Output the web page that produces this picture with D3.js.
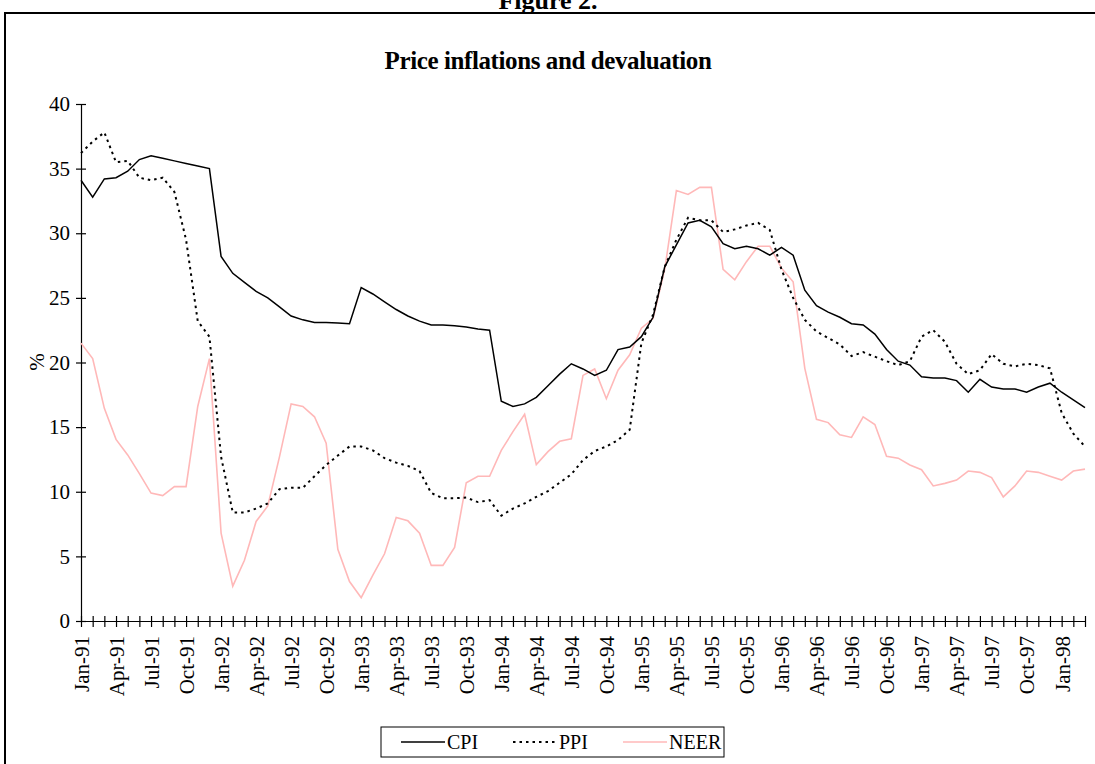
<!DOCTYPE html>
<html>
<head>
<meta charset="utf-8">
<script src="https://cdn.jsdelivr.net/npm/d3@7"></script>
<style>
  html, body { margin: 0; padding: 0; background: #fff; }
  svg { display: block; }
  text { font-family: "Liberation Serif", "Times New Roman", serif; fill: #000; }
</style>
</head>
<body>
<svg id="chart" width="1095" height="764"></svg>
<script>
// ---- data ----
const months = ["Jan","Feb","Mar","Apr","May","Jun","Jul","Aug","Sep","Oct","Nov","Dec"];
const categories = [];
for (let yr = 91; yr <= 98; yr++) {
  for (let m = 0; m < 12; m++) {
    if (yr === 98 && m > 2) break;
    categories.push(months[m] + "-" + yr);
  }
}
const cpi = [
  34.1, 32.8, 34.2, 34.3, 34.8, 35.7, 36.0, 35.8, 35.6, 35.4, 35.2, 35.0,
  28.2, 26.9, 26.2, 25.5, 25.0, 24.3, 23.6, 23.3, 23.1, 23.1, 23.05, 23.0,
  25.8, 25.3, 24.7, 24.1, 23.6, 23.2, 22.9, 22.9, 22.85, 22.75, 22.6, 22.5,
  17.0, 16.6, 16.8, 17.3, 18.2, 19.1, 19.9, 19.5, 19.0, 19.4, 21.0, 21.2,
  22.0, 23.5, 27.4, 29.1, 30.8, 31.0, 30.5, 29.2, 28.8, 29.0, 28.8, 28.3,
  28.9, 28.3, 25.6, 24.4, 23.9, 23.5, 23.0, 22.9, 22.2, 21.0, 20.1, 19.8,
  18.9, 18.8, 18.8, 18.6, 17.7, 18.7, 18.1, 17.95, 17.95, 17.7, 18.1, 18.4,
  17.7, 17.1, 16.5
];
const ppi = [
  36.2, 37.1, 37.8, 35.5, 35.6, 34.3, 34.1, 34.3, 33.2, 29.5, 23.2, 22.0,
  12.7, 8.4, 8.4, 8.7, 9.1, 10.2, 10.3, 10.3, 11.2, 12.07, 12.8, 13.5,
  13.5, 13.2, 12.6, 12.25, 12.0, 11.6, 9.9, 9.5, 9.5, 9.55, 9.2, 9.35,
  8.15, 8.7, 9.1, 9.6, 10.05, 10.7, 11.35, 12.45, 13.15, 13.5, 14.0, 14.8,
  21.5, 23.7, 27.4, 29.5, 31.2, 31.0, 31.0, 30.1, 30.3, 30.6, 30.8, 30.25,
  27.2, 25.0, 23.3, 22.4, 21.9, 21.4, 20.5, 20.8, 20.45, 20.1, 19.8, 20.1,
  22.0, 22.5, 21.6, 19.9, 19.1, 19.4, 20.65, 19.9, 19.7, 19.9, 19.8, 19.55,
  16.1, 14.5, 13.5
];
const neer = [
  21.5, 20.3, 16.45, 14.05, 12.85, 11.4, 9.9, 9.7, 10.4, 10.4, 16.6, 20.3,
  6.8, 2.7, 4.7, 7.7, 8.9, 12.7, 16.8, 16.6, 15.8, 13.75, 5.55, 3.05,
  1.8, 3.55, 5.2, 8.0, 7.75, 6.8, 4.3, 4.3, 5.7, 10.7, 11.2, 11.2,
  13.2, 14.65, 16.0, 12.1, 13.1, 13.9, 14.1, 19.0, 19.5, 17.2, 19.4, 20.6,
  22.65, 23.4, 27.2, 33.3, 33.0, 33.55, 33.55, 27.2, 26.4, 27.8, 29.0, 29.0,
  27.3, 26.25, 19.55, 15.6, 15.35, 14.4, 14.2, 15.8, 15.2, 12.75, 12.6, 12.07,
  11.7, 10.45, 10.65, 10.9, 11.6, 11.5, 11.1, 9.6, 10.45, 11.6, 11.5, 11.2,
  10.9, 11.6, 11.75
];
const yTicks = [0, 5, 10, 15, 20, 25, 30, 35, 40];
const seriesNames = ["CPI", "PPI", "NEER"];

// ---- layout ----
const svg = d3.select("#chart");
const plotLeft = 81, plotRight = 1085, plotTop = 104, plotBottom = 621;

const x = d3.scalePoint().domain(categories).range([plotLeft, plotRight]);
const y = d3.scaleLinear().domain([0, 40]).range([plotBottom, plotTop]);

// outer frame
svg.append("rect")
  .attr("x", 5).attr("y", 13).attr("width", 1100).attr("height", 800)
  .attr("fill", "none").attr("stroke", "#000").attr("stroke-width", 2);

// figure caption (partly cut at the top edge, as in the source)
svg.append("text")
  .attr("x", 548).attr("y", 9)
  .attr("text-anchor", "middle")
  .attr("font-weight", "bold").attr("font-size", 26)
  .text("Figure 2.");

// chart title
svg.append("text")
  .attr("x", 548).attr("y", 69)
  .attr("text-anchor", "middle")
  .attr("font-weight", "bold").attr("font-size", 25)
  .attr("letter-spacing", "-0.4")
  .text("Price inflations and devaluation");

// y axis
const yAxis = d3.axisLeft(y).tickValues(yTicks).tickSize(0).tickPadding(11);
const gy = svg.append("g").attr("transform", `translate(${plotLeft},0)`).call(yAxis);
gy.select(".domain").attr("stroke", "#000").attr("stroke-width", 1.2);
gy.selectAll(".tick text").attr("font-size", 21).attr("font-family", "Liberation Serif").attr("fill", "#000");
gy.selectAll(".tick").append("line")
  .attr("x1", -5).attr("x2", 5).attr("stroke", "#000").attr("stroke-width", 1.2);

// x axis
const xAxis = d3.axisBottom(x).tickSize(0).tickFormat("");
const gx = svg.append("g").attr("transform", `translate(0,${plotBottom})`).call(xAxis);
gx.select(".domain").attr("stroke", "#000").attr("stroke-width", 1.2);
gx.selectAll(".tick").append("line")
  .attr("y1", -5).attr("y2", 6).attr("stroke", "#000").attr("stroke-width", 1.2);
gx.selectAll(".tick").filter((d, i) => i % 3 === 0)
  .append("text")
  .attr("transform", "rotate(-90)")
  .attr("x", -15).attr("y", 0).attr("dy", "0.35em")
  .attr("text-anchor", "end")
  .attr("font-size", 21).attr("font-family", "Liberation Serif").attr("fill", "#000")
  .text(d => d);

// y label
svg.append("text")
  .attr("transform", "translate(44,362) rotate(-90)")
  .attr("text-anchor", "middle")
  .attr("font-size", 21)
  .text("%");

// lines
const line = d3.line().x((d, i) => x(categories[i])).y(d => y(d));
svg.append("path").datum(neer).attr("d", line)
  .attr("fill", "none").attr("stroke", "#ffb8b8").attr("stroke-width", 1.6);
svg.append("path").datum(ppi).attr("d", line)
  .attr("fill", "none").attr("stroke", "#000").attr("stroke-width", 2)
  .attr("stroke-dasharray", "2.5,4");
svg.append("path").datum(cpi).attr("d", line)
  .attr("fill", "none").attr("stroke", "#000").attr("stroke-width", 1.5);

// legend
const lg = svg.append("g");
lg.append("rect").attr("x", 381).attr("y", 727).attr("width", 343).attr("height", 30)
  .attr("fill", "#fff").attr("stroke", "#000").attr("stroke-width", 1);
const legendItems = [
  {name: seriesNames[0], x: 401, stroke: "#000", dash: null, w: 1.5},
  {name: seriesNames[1], x: 513, stroke: "#000", dash: "2.5,4", w: 2},
  {name: seriesNames[2], x: 623, stroke: "#ffb8b8", dash: null, w: 1.6}
];
legendItems.forEach(it => {
  lg.append("line").attr("x1", it.x).attr("x2", it.x + 44).attr("y1", 742).attr("y2", 742)
    .attr("stroke", it.stroke).attr("stroke-width", it.w)
    .attr("stroke-dasharray", it.dash);
  lg.append("text").attr("x", it.x + 46).attr("y", 749).attr("font-size", 20).text(it.name);
});
</script>
</body>
</html>
